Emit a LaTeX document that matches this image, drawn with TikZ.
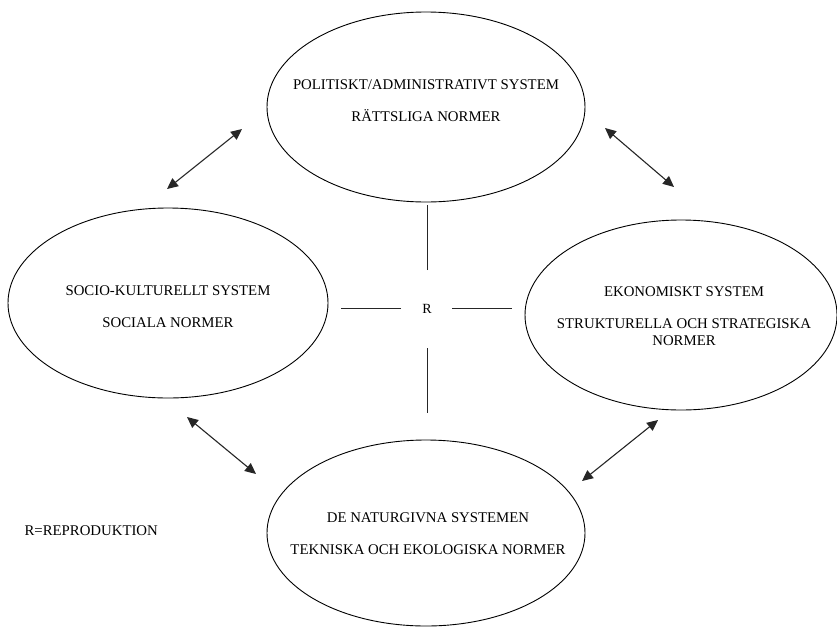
\documentclass[tikz,border=0pt]{standalone}
\usepackage{fontspec}
\setmainfont{Liberation Serif}
\usetikzlibrary{shapes.geometric,arrows.meta}
\begin{document}
\begin{tikzpicture}[x=1pt,y=-1pt,
    sys/.style={draw, ellipse, line width=0.9pt, inner sep=0pt, minimum height=190pt},
    systext/.style={align=center, font=\fontsize{14.8}{17}\selectfont},
    arr/.style={{Triangle[length=11pt,width=10pt]}-{Triangle[length=11pt,width=10pt]}, line width=1.1pt, black!85},
    rline/.style={line width=1pt, black!85}]
    \useasboundingbox (0,0) rectangle (837,627);
    % die vier Systeme
    \node[sys, minimum width=318pt] (pol) at (426,107) {};
    \node[sys, minimum width=320pt] (soc) at (168,303) {};
    \node[sys, minimum width=312pt] (eko) at (681,315) {};
    \node[sys, minimum width=318pt, minimum height=186pt] (nat) at (426,533) {};
    \node[systext] (poltext) at (426,101) {POLITISKT/ADMINISTRATIVT SYSTEM\\[15pt]R\"ATTSLIGA NORMER};
    \node[systext] (soctext) at (168,307) {SOCIO-KULTURELLT SYSTEM\\[15pt]SOCIALA NORMER};
    \node[systext] (ekotext) at (684,316) {EKONOMISKT SYSTEM\\[15pt]STRUKTURELLA OCH STRATEGISKA\\NORMER};
    \node[systext] (nattext) at (428,534) {DE NATURGIVNA SYSTEMEN\\[15pt]TEKNISKA OCH EKOLOGISKA NORMER};
    \node[font=\fontsize{14}{16}\selectfont] (R) at (427,309) {R};
    \node[systext, anchor=west] (legend) at (21,531) {R=REPRODUKTION};
    % Reproduktion
    \draw[rline] (R.center) ++(0,-39) -- ++(0,-65);
    \draw[rline] (R.center) ++(0,39) -- ++(0,65);
    \draw[rline] (R.center) ++(-26,-1) -- ++(-60,0);
    \draw[rline] (R.center) ++(25,-1) -- ++(60,0);
    % Pfeile
    \coordinate (pa) at (242,129); \coordinate (sa) at (167,189);
    \coordinate (pb) at (605,128); \coordinate (eb) at (674,187);
    \coordinate (sc) at (187,417); \coordinate (nc) at (256,474);
    \coordinate (ed) at (658,420); \coordinate (nd) at (582,481);
    \draw[arr] (pa) -- (sa);
    \draw[arr] (pb) -- (eb);
    \draw[arr] (sc) -- (nc);
    \draw[arr] (ed) -- (nd);
\end{tikzpicture}
\end{document}
